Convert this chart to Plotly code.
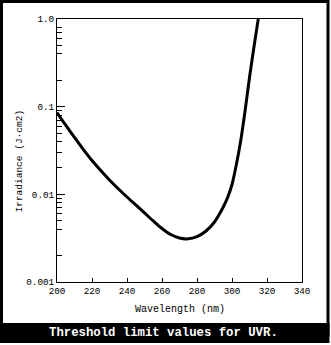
import plotly.graph_objects as go

# Threshold limit values for ultraviolet radiation (J/cm^2) by wavelength (nm)
wavelength_nm = [200, 205, 210, 215, 220, 225, 230, 235, 240, 245, 250, 255,
                 260, 265, 270, 275, 280, 285, 290, 292.5, 295, 297.5, 300,
                 302.5, 305, 307.5, 310, 312.5, 315]
irradiance = [0.0858, 0.0615, 0.0445, 0.0326, 0.0243, 0.0187, 0.01457,
              0.01159, 0.00932, 0.00756, 0.00613, 0.00497, 0.00408, 0.00348,
              0.00317, 0.00311, 0.00330, 0.00379, 0.00484, 0.00581, 0.00717,
              0.00920, 0.01295, 0.02190, 0.04112, 0.0904, 0.2152, 0.473, 1.0]

x_ticks = [200, 220, 240, 260, 280, 300, 320, 340]
y_ticks = [1.0, 0.1, 0.01, 0.001]
y_tick_text = ["1.0", "0.1", "0.01", "0.001"]
y_minor = [0.2, 0.4, 0.5, 0.6, 0.7, 0.8,
           0.02, 0.03, 0.04, 0.05, 0.06, 0.07, 0.08, 0.09,
           0.002, 0.004, 0.005, 0.006, 0.007, 0.008, 0.009]

title_text = "Threshold limit values for UVR."
x_title = "Wavelength (nm)"
y_title = "Irradiance (J\u00b7cm2)"

W, H = 331, 345
L, R, T, B = 57, 29, 19, 63
MONO = "Liberation Mono, DejaVu Sans Mono, monospace"


def fx(px):
    return (px - L) / (W - L - R)


def fy(py):
    return 1 - (py - T) / (H - T - B)


fig = go.Figure()
fig.add_trace(go.Scatter(
    x=wavelength_nm, y=irradiance, mode="lines",
    line=dict(color="black", width=3, shape="spline", smoothing=0.8),
    hoverinfo="skip", showlegend=False,
))

fig.update_layout(
    width=W, height=H,
    margin=dict(l=L, r=R, t=T, b=B, autoexpand=False),
    paper_bgcolor="white", plot_bgcolor="white",
    showlegend=False,
    font=dict(family=MONO, size=9.3, color="black"),
    xaxis=dict(
        range=[200, 340], tickvals=x_ticks, ticks="inside", ticklen=4,
        tickwidth=1, tickcolor="black", showline=True, linecolor="black",
        linewidth=1, mirror=True, showgrid=False, zeroline=False,
        automargin=False, tickfont=dict(family=MONO, size=9.3),
    ),
    yaxis=dict(
        type="log", range=[-3, 0], tickvals=y_ticks, ticktext=y_tick_text,
        ticks="inside", ticklen=8, tickwidth=1, tickcolor="black",
        showline=True, linecolor="black", linewidth=1, mirror=True,
        showgrid=False, zeroline=False, automargin=False,
        tickfont=dict(family=MONO, size=9.3),
        minor=dict(tickmode="array", tickvals=y_minor, ticks="inside",
                   ticklen=5, tickwidth=1, tickcolor="black", showgrid=False),
    ),
    shapes=[
        # outer frame
        dict(type="rect", xref="paper", yref="paper",
             x0=fx(1.5), x1=fx(328), y0=fy(1.5), y1=fy(335),
             line=dict(color="black", width=3), fillcolor="rgba(0,0,0,0)",
             layer="above"),
        # caption band
        dict(type="rect", xref="paper", yref="paper",
             x0=fx(0), x1=fx(329.5), y0=fy(323), y1=fy(343),
             line=dict(width=0), fillcolor="black", layer="above"),
    ],
    annotations=[
        dict(text=x_title, xref="paper", yref="paper", x=fx(179.5), y=fy(309),
             showarrow=False, xanchor="center", yanchor="middle",
             font=dict(family=MONO, size=10, color="black")),
        dict(text=y_title, xref="paper", yref="paper", x=fx(19), y=fy(161.5),
             showarrow=False, xanchor="center", yanchor="middle", textangle=-90,
             font=dict(family=MONO, size=9.5, color="black")),
        dict(text="<b>" + title_text + "</b>", xref="paper", yref="paper",
             x=fx(163), y=fy(333), showarrow=False, xanchor="center",
             yanchor="middle",
             font=dict(family=MONO, size=12.3, color="white")),
    ],
)

fig.write_html("out.html")
